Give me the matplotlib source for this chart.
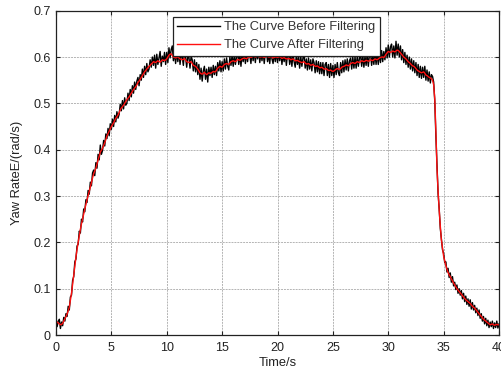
#!/usr/bin/env python3
"""Yaw rate before / after filtering."""

import numpy as np
import matplotlib
matplotlib.use("Agg")
import matplotlib.pyplot as plt

# sample times, 0.1 s step
TIME_S = np.round(np.arange(0, 401) * 0.1, 1)

# raw yaw rate (rad/s), one row per second
YAW_RAW = [
    0.036, 0.018, 0.030, 0.034, 0.014, 0.028, 0.020, 0.038, 0.030, 0.046,
    0.040, 0.062, 0.054, 0.082, 0.086, 0.118, 0.126, 0.158, 0.164, 0.192,
    0.196, 0.224, 0.220, 0.250, 0.244, 0.272, 0.266, 0.292, 0.286, 0.312,
    0.304, 0.330, 0.322, 0.350, 0.356, 0.344, 0.372, 0.360, 0.390, 0.378,
    0.410, 0.390, 0.398, 0.420, 0.408, 0.434, 0.424, 0.446, 0.430, 0.456,
    0.444, 0.466, 0.450, 0.474, 0.460, 0.482, 0.468, 0.476, 0.498, 0.484,
    0.506, 0.488, 0.512, 0.496, 0.500, 0.522, 0.506, 0.530, 0.514, 0.538,
    0.522, 0.546, 0.530, 0.548, 0.556, 0.538, 0.562, 0.550, 0.574, 0.556,
    0.580, 0.562, 0.586, 0.568, 0.574, 0.594, 0.578, 0.600, 0.582, 0.604,
    0.576, 0.606, 0.584, 0.598, 0.612, 0.580, 0.602, 0.590, 0.610, 0.584,
    0.610, 0.588, 0.620, 0.598, 0.616, 0.624, 0.592, 0.610, 0.586, 0.612,
    0.590, 0.612, 0.584, 0.606, 0.600, 0.582, 0.610, 0.600, 0.578, 0.602,
    0.600, 0.576, 0.602, 0.594, 0.570, 0.594, 0.568, 0.588, 0.562, 0.584,
    0.552, 0.576, 0.548, 0.570, 0.580, 0.552, 0.574, 0.546, 0.578, 0.560,
    0.578, 0.556, 0.582, 0.562, 0.580, 0.560, 0.588, 0.570, 0.592, 0.568,
    0.590, 0.570, 0.596, 0.574, 0.598, 0.580, 0.572, 0.600, 0.582, 0.604,
    0.580, 0.604, 0.584, 0.600, 0.610, 0.584, 0.606, 0.580, 0.608, 0.590,
    0.612, 0.586, 0.608, 0.590, 0.614, 0.604, 0.586, 0.612, 0.592, 0.614,
    0.588, 0.612, 0.596, 0.616, 0.588, 0.610, 0.592, 0.614, 0.586, 0.608,
    0.614, 0.590, 0.606, 0.586, 0.612, 0.596, 0.586, 0.610, 0.590, 0.612,
    0.588, 0.610, 0.592, 0.612, 0.584, 0.606, 0.590, 0.610, 0.582, 0.606,
    0.610, 0.584, 0.604, 0.580, 0.608, 0.590, 0.578, 0.604, 0.584, 0.600,
    0.576, 0.602, 0.580, 0.598, 0.604, 0.576, 0.596, 0.572, 0.598, 0.574,
    0.594, 0.570, 0.596, 0.588, 0.566, 0.592, 0.568, 0.590, 0.564, 0.588,
    0.564, 0.588, 0.560, 0.584, 0.588, 0.560, 0.584, 0.556, 0.586, 0.560,
    0.582, 0.556, 0.584, 0.562, 0.588, 0.566, 0.560, 0.588, 0.566, 0.592,
    0.568, 0.594, 0.572, 0.596, 0.570, 0.592, 0.598, 0.574, 0.600, 0.576,
    0.600, 0.576, 0.602, 0.580, 0.598, 0.604, 0.580, 0.604, 0.578, 0.602,
    0.582, 0.606, 0.580, 0.604, 0.608, 0.582, 0.604, 0.584, 0.610, 0.584,
    0.608, 0.584, 0.610, 0.588, 0.614, 0.590, 0.612, 0.594, 0.620, 0.598,
    0.626, 0.600, 0.622, 0.628, 0.600, 0.624, 0.598, 0.634, 0.604, 0.628,
    0.600, 0.624, 0.594, 0.616, 0.588, 0.610, 0.584, 0.604, 0.578, 0.600,
    0.574, 0.596, 0.570, 0.592, 0.566, 0.588, 0.560, 0.584, 0.556, 0.580,
    0.554, 0.578, 0.556, 0.580, 0.550, 0.572, 0.548, 0.568, 0.544, 0.562,
    0.558, 0.546, 0.505, 0.430, 0.365, 0.305, 0.272, 0.230, 0.208, 0.184,
    0.176, 0.156, 0.158, 0.136, 0.144, 0.124, 0.134, 0.114, 0.126, 0.106,
    0.114, 0.098, 0.108, 0.090, 0.100, 0.086, 0.096, 0.078, 0.090, 0.072,
    0.084, 0.066, 0.078, 0.062, 0.076, 0.056, 0.070, 0.054, 0.064, 0.048,
    0.058, 0.042, 0.054, 0.036, 0.046, 0.030, 0.040, 0.024, 0.036, 0.020,
    0.032, 0.016, 0.028, 0.018, 0.030, 0.014, 0.026, 0.016, 0.030, 0.015,
    0.024,
]

# filtered yaw rate (rad/s)
YAW_FILTERED = [
    0.030, 0.028, 0.026, 0.024, 0.022, 0.023, 0.025, 0.030, 0.035, 0.040,
    0.045, 0.052, 0.060, 0.075, 0.090, 0.110, 0.130, 0.150, 0.168, 0.185,
    0.200, 0.214, 0.228, 0.240, 0.250, 0.261, 0.272, 0.282, 0.292, 0.301,
    0.310, 0.320, 0.330, 0.339, 0.348, 0.354, 0.360, 0.369, 0.378, 0.386,
    0.395, 0.399, 0.403, 0.409, 0.415, 0.422, 0.430, 0.435, 0.440, 0.445,
    0.450, 0.454, 0.458, 0.463, 0.468, 0.471, 0.475, 0.480, 0.486, 0.490,
    0.493, 0.496, 0.500, 0.504, 0.508, 0.511, 0.514, 0.518, 0.522, 0.526,
    0.530, 0.533, 0.536, 0.540, 0.545, 0.548, 0.552, 0.556, 0.560, 0.564,
    0.568, 0.571, 0.574, 0.577, 0.580, 0.582, 0.585, 0.587, 0.590, 0.589,
    0.588, 0.590, 0.592, 0.590, 0.589, 0.591, 0.594, 0.593, 0.592, 0.594,
    0.596, 0.600, 0.604, 0.606, 0.607, 0.603, 0.600, 0.599, 0.598, 0.599,
    0.601, 0.598, 0.596, 0.595, 0.594, 0.595, 0.597, 0.593, 0.590, 0.589,
    0.588, 0.589, 0.590, 0.586, 0.582, 0.581, 0.580, 0.577, 0.574, 0.570,
    0.566, 0.564, 0.563, 0.565, 0.567, 0.564, 0.562, 0.564, 0.566, 0.565,
    0.565, 0.567, 0.569, 0.568, 0.568, 0.572, 0.576, 0.578, 0.580, 0.579,
    0.578, 0.581, 0.584, 0.585, 0.586, 0.585, 0.584, 0.587, 0.590, 0.591,
    0.592, 0.591, 0.590, 0.592, 0.595, 0.594, 0.593, 0.594, 0.596, 0.597,
    0.598, 0.597, 0.596, 0.598, 0.600, 0.600, 0.599, 0.600, 0.602, 0.601,
    0.600, 0.601, 0.603, 0.601, 0.600, 0.600, 0.601, 0.600, 0.599, 0.600,
    0.602, 0.601, 0.600, 0.600, 0.601, 0.600, 0.598, 0.599, 0.600, 0.600,
    0.599, 0.600, 0.601, 0.599, 0.597, 0.598, 0.599, 0.597, 0.596, 0.596,
    0.597, 0.596, 0.594, 0.595, 0.596, 0.594, 0.592, 0.592, 0.593, 0.591,
    0.590, 0.589, 0.588, 0.589, 0.590, 0.587, 0.585, 0.585, 0.586, 0.584,
    0.582, 0.583, 0.584, 0.582, 0.580, 0.580, 0.581, 0.579, 0.577, 0.577,
    0.578, 0.576, 0.574, 0.574, 0.575, 0.573, 0.571, 0.571, 0.572, 0.570,
    0.569, 0.570, 0.572, 0.574, 0.575, 0.574, 0.573, 0.575, 0.578, 0.579,
    0.580, 0.581, 0.583, 0.582, 0.581, 0.583, 0.586, 0.587, 0.588, 0.587,
    0.586, 0.588, 0.590, 0.589, 0.588, 0.590, 0.592, 0.591, 0.590, 0.591,
    0.593, 0.592, 0.591, 0.592, 0.594, 0.593, 0.592, 0.594, 0.596, 0.595,
    0.594, 0.596, 0.598, 0.599, 0.600, 0.600, 0.599, 0.602, 0.606, 0.609,
    0.612, 0.611, 0.610, 0.611, 0.613, 0.612, 0.611, 0.613, 0.615, 0.614,
    0.612, 0.609, 0.606, 0.603, 0.600, 0.598, 0.596, 0.593, 0.590, 0.588,
    0.586, 0.583, 0.581, 0.580, 0.578, 0.575, 0.572, 0.570, 0.569, 0.567,
    0.566, 0.567, 0.568, 0.565, 0.561, 0.560, 0.558, 0.556, 0.555, 0.553,
    0.550, 0.540, 0.510, 0.440, 0.360, 0.310, 0.270, 0.235, 0.205, 0.188,
    0.170, 0.160, 0.150, 0.142, 0.135, 0.130, 0.126, 0.121, 0.117, 0.112,
    0.108, 0.104, 0.100, 0.097, 0.094, 0.091, 0.088, 0.085, 0.082, 0.079,
    0.076, 0.074, 0.072, 0.070, 0.068, 0.065, 0.062, 0.060, 0.058, 0.055,
    0.052, 0.049, 0.046, 0.043, 0.040, 0.037, 0.034, 0.032, 0.030, 0.028,
    0.026, 0.024, 0.022, 0.023, 0.024, 0.022, 0.021, 0.022, 0.023, 0.022,
    0.022,
]

X_TICKS = [0, 5, 10, 15, 20, 25, 30, 35, 40]
Y_TICKS = [0, 0.1, 0.2, 0.3, 0.4, 0.5, 0.6, 0.7]
Y_TICK_LABELS = ["0", "0.1", "0.2", "0.3", "0.4", "0.5", "0.6", "0.7"]

plt.rcParams["font.family"] = ["Liberation Sans", "DejaVu Sans"]

fig = plt.figure(figsize=(5.01, 3.72), dpi=100)
ax = fig.add_axes([56 / 501, 37 / 372, 443 / 501, 324.3 / 372])

ax.plot(TIME_S, YAW_RAW, color="black", linewidth=1.0,
        label="The Curve Before Filtering")
ax.plot(TIME_S, YAW_FILTERED, color="#ff1010", linewidth=1.0,
        label="The Curve After Filtering")

ax.set_xlim(0, 40)
ax.set_ylim(0, 0.7)
ax.set_xticks(X_TICKS)
ax.set_yticks(Y_TICKS)
ax.set_yticklabels(Y_TICK_LABELS)
ax.tick_params(direction="in", length=3, width=0.8, top=True, right=True,
               labelsize=9, colors="#222222", pad=4)
ax.tick_params(axis="x", pad=5)
for spine in ax.spines.values():
    spine.set_linewidth(0.9)
    spine.set_color("#222222")
ax.grid(True, color="#b4b4b4", linestyle=(0, (2, 1)), linewidth=0.7)
ax.set_axisbelow(True)

ax.set_xlabel("Time/s", fontsize=9.3, color="#222222", labelpad=2)
ax.set_ylabel("Yaw RateE/(rad/s)", fontsize=9.3, color="#222222", labelpad=7)

leg = ax.legend(loc="upper left", bbox_to_anchor=(0.264, 0.981),
                borderaxespad=0, fancybox=False, framealpha=1,
                edgecolor="#222222", handlelength=3.3, handletextpad=0.3,
                borderpad=0.35, labelspacing=0.45, fontsize=9.3)
leg.get_frame().set_linewidth(0.9)
for text in leg.get_texts():
    text.set_color("#333333")

fig.savefig("out.png", dpi=100)
